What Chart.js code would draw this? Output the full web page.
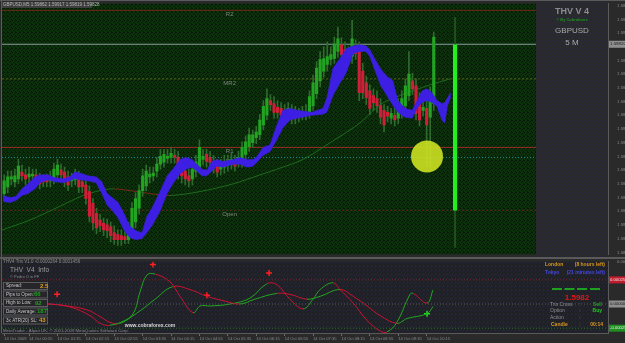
<!DOCTYPE html>
<html>
<head>
<meta charset="utf-8">
<title>THV V4 GBPUSD M5</title>
<script src="https://cdn.jsdelivr.net/npm/chart.js@4.4.1/dist/chart.umd.min.js"></script>
<style>
  body { margin: 0; background: #2a2a2a; overflow: hidden; }
  #wrap { position: relative; width: 625px; height: 343px; }
  #main { position: absolute; left: 0; top: 0; }
  #sub { position: absolute; left: 0; top: 258px; }
</style>
</head>
<body>
<div id="wrap">
  <canvas id="main" width="625" height="258"></canvas>
  <canvas id="sub" width="625" height="85"></canvas>
</div>
<script>
// price axis labels (right side)
const priceTicks = [1.59975, 1.59920, 1.59865, 1.59755, 1.59700, 1.59645, 1.59590, 1.59535, 1.59480,
  1.59425, 1.59370, 1.59315, 1.59260, 1.59205, 1.59150, 1.59095, 1.59040, 1.58985];

// M5 candles, bar index 0 = 14 Oct 00:20
const openP = [
  1.59221, 1.59248, 1.59280, 1.59268, 1.59280, 1.59307, 1.59296, 1.59288, 1.59292, 1.59296,
  1.59284, 1.59276, 1.59280, 1.59272, 1.59280, 1.59296, 1.59315, 1.59307, 1.59288, 1.59272,
  1.59276, 1.59284, 1.59268, 1.59256, 1.59229, 1.59182, 1.59142, 1.59115, 1.59103, 1.59095,
  1.59087, 1.59064, 1.59056, 1.59052, 1.59048, 1.59036, 1.59060, 1.59107, 1.59162, 1.59233,
  1.59252, 1.59288, 1.59292, 1.59311, 1.59339, 1.59347, 1.59362, 1.59366, 1.59374, 1.59366,
  1.59331, 1.59311, 1.59292, 1.59280, 1.59311, 1.59327, 1.59358, 1.59378, 1.59366, 1.59350,
  1.59339, 1.59319, 1.59327, 1.59335, 1.59339, 1.59350, 1.59347, 1.59350, 1.59378, 1.59409,
  1.59425, 1.59445, 1.59457, 1.59496, 1.59535, 1.59594, 1.59582, 1.59567, 1.59563, 1.59555,
  1.59543, 1.59555, 1.59547, 1.59543, 1.59535, 1.59539, 1.59543, 1.59574, 1.59622, 1.59673,
  1.59712, 1.59739, 1.59759, 1.59763, 1.59791, 1.59818, 1.59798, 1.59771, 1.59771, 1.59806,
  1.59798, 1.59712, 1.59665, 1.59633, 1.59614, 1.59602, 1.59574, 1.59555, 1.59547, 1.59523,
  1.59535, 1.59523, 1.59547, 1.59574, 1.59614, 1.59673, 1.59653, 1.59602, 1.59555, 1.59563,
  1.59527, 1.59582];
const highP = [
  1.59296, 1.59311, 1.59311, 1.59319, 1.59358, 1.59335, 1.59319, 1.59327, 1.59319, 1.59319,
  1.59303, 1.59296, 1.59299, 1.59311, 1.59343, 1.59358, 1.59339, 1.59327, 1.59311, 1.59303,
  1.59319, 1.59311, 1.59292, 1.59280, 1.59252, 1.59201, 1.59162, 1.59138, 1.59123, 1.59119,
  1.59107, 1.59091, 1.59075, 1.59075, 1.59068, 1.59107, 1.59185, 1.59225, 1.59256, 1.59319,
  1.59335, 1.59327, 1.59327, 1.59366, 1.59398, 1.59398, 1.59398, 1.59406, 1.59398, 1.59390,
  1.59358, 1.59335, 1.59319, 1.59343, 1.59374, 1.59437, 1.59398, 1.59398, 1.59390, 1.59374,
  1.59358, 1.59358, 1.59374, 1.59374, 1.59382, 1.59374, 1.59390, 1.59429, 1.59453, 1.59484,
  1.59476, 1.59492, 1.59539, 1.59594, 1.59641, 1.59618, 1.59610, 1.59594, 1.59586, 1.59578,
  1.59586, 1.59578, 1.59571, 1.59563, 1.59571, 1.59578, 1.59633, 1.59696, 1.59751, 1.59791,
  1.59810, 1.59830, 1.59810, 1.59849, 1.59889, 1.59846, 1.59830, 1.59810, 1.59916, 1.59838,
  1.59830, 1.59743, 1.59692, 1.59657, 1.59641, 1.59633, 1.59602, 1.59578, 1.59571, 1.59563,
  1.59563, 1.59602, 1.59633, 1.59681, 1.59791, 1.59704, 1.59681, 1.59626, 1.59594, 1.59594,
  1.59649, 1.59869];
const lowP = [
  1.59201, 1.59225, 1.59256, 1.59248, 1.59260, 1.59272, 1.59256, 1.59264, 1.59272, 1.59248,
  1.59240, 1.59248, 1.59248, 1.59248, 1.59260, 1.59272, 1.59272, 1.59248, 1.59233, 1.59248,
  1.59256, 1.59225, 1.59225, 1.59178, 1.59107, 1.59075, 1.59060, 1.59068, 1.59052, 1.59044,
  1.59028, 1.59017, 1.59013, 1.59013, 1.59020, 1.59020, 1.59044, 1.59083, 1.59138, 1.59209,
  1.59233, 1.59264, 1.59272, 1.59288, 1.59319, 1.59327, 1.59343, 1.59343, 1.59343, 1.59280,
  1.59264, 1.59256, 1.59248, 1.59256, 1.59288, 1.59303, 1.59335, 1.59327, 1.59319, 1.59303,
  1.59288, 1.59296, 1.59303, 1.59311, 1.59319, 1.59311, 1.59327, 1.59327, 1.59358, 1.59390,
  1.59406, 1.59421, 1.59437, 1.59476, 1.59516, 1.59555, 1.59523, 1.59523, 1.59516, 1.59516,
  1.59516, 1.59500, 1.59500, 1.59508, 1.59516, 1.59516, 1.59523, 1.59555, 1.59602, 1.59649,
  1.59688, 1.59712, 1.59736, 1.59743, 1.59767, 1.59751, 1.59720, 1.59743, 1.59743, 1.59759,
  1.59594, 1.59602, 1.59578, 1.59539, 1.59555, 1.59547, 1.59500, 1.59468, 1.59508, 1.59500,
  1.59492, 1.59500, 1.59523, 1.59547, 1.59594, 1.59618, 1.59516, 1.59492, 1.59531, 1.59331,
  1.59331, 1.59555];
const closeP = [
  1.59272, 1.59288, 1.59288, 1.59292, 1.59331, 1.59292, 1.59280, 1.59299, 1.59299, 1.59272,
  1.59260, 1.59268, 1.59268, 1.59288, 1.59319, 1.59335, 1.59296, 1.59268, 1.59256, 1.59284,
  1.59288, 1.59248, 1.59248, 1.59201, 1.59130, 1.59103, 1.59083, 1.59091, 1.59075, 1.59072,
  1.59052, 1.59036, 1.59036, 1.59036, 1.59036, 1.59087, 1.59162, 1.59201, 1.59233, 1.59292,
  1.59311, 1.59299, 1.59303, 1.59339, 1.59370, 1.59378, 1.59370, 1.59382, 1.59366, 1.59299,
  1.59292, 1.59280, 1.59272, 1.59319, 1.59347, 1.59406, 1.59370, 1.59350, 1.59347, 1.59327,
  1.59307, 1.59335, 1.59347, 1.59350, 1.59358, 1.59331, 1.59366, 1.59406, 1.59429, 1.59457,
  1.59457, 1.59468, 1.59516, 1.59571, 1.59602, 1.59578, 1.59547, 1.59547, 1.59535, 1.59535,
  1.59563, 1.59523, 1.59523, 1.59527, 1.59547, 1.59547, 1.59610, 1.59665, 1.59724, 1.59759,
  1.59763, 1.59771, 1.59779, 1.59822, 1.59842, 1.59779, 1.59739, 1.59779, 1.59842, 1.59783,
  1.59626, 1.59626, 1.59606, 1.59563, 1.59586, 1.59574, 1.59527, 1.59496, 1.59531, 1.59543,
  1.59516, 1.59574, 1.59602, 1.59653, 1.59700, 1.59641, 1.59543, 1.59516, 1.59567, 1.59496,
  1.59622, 1.59849];

// blue cloud band (top / bottom edge), x in bar units
const cloudIdx = [-0.3, 1.6, 3.3, 5.0, 6.7, 8.7, 10.1, 12.3, 14.3, 16.6, 18.5, 19.9, 21.4, 23.6, 25.9,
  27.5, 29.0, 30.4, 32.1, 33.7, 35.4, 37.1, 38.8, 40.2, 41.6, 43.9, 45.9, 47.5, 49.5, 51.2, 52.9,
  54.3, 55.7, 57.1, 58.5, 59.9, 61.6, 64.5, 66.4, 68.4, 70.1, 71.2, 72.9, 74.9, 76.8, 78.5, 80.5,
  82.5, 86.7, 89.8, 90.9, 92.6, 94.6, 96.3, 98.3, 100.2, 101.9, 103.0, 104.5, 106.1, 107.8, 109.5,
  110.9, 112.9, 114.9, 116.3, 117.7, 119.1, 120.5, 121.9, 123.3, 124.1, 124.9, 125.8];
const cloudTop = [1.59213, 1.59205, 1.59209, 1.59240, 1.59260, 1.59288, 1.59296, 1.59296, 1.59284,
  1.59280, 1.59288, 1.59307, 1.59303, 1.59292, 1.59288, 1.59268, 1.59221, 1.59205, 1.59185, 1.59142,
  1.59091, 1.59072, 1.59064, 1.59130, 1.59162, 1.59229, 1.59292, 1.59319, 1.59358, 1.59366, 1.59358,
  1.59339, 1.59319, 1.59315, 1.59350, 1.59358, 1.59350, 1.59358, 1.59366, 1.59358, 1.59358, 1.59370,
  1.59406, 1.59417, 1.59496, 1.59555, 1.59563, 1.59555, 1.59547, 1.59563, 1.59606, 1.59724, 1.59763,
  1.59802, 1.59814, 1.59818, 1.59814, 1.59798, 1.59759, 1.59720, 1.59692, 1.59673, 1.59594, 1.59563,
  1.59555, 1.59594, 1.59633, 1.59641, 1.59626, 1.59594, 1.59582, 1.59586, 1.59606, 1.59626];
const cloudBot = [1.59189, 1.59185, 1.59193, 1.59213, 1.59221, 1.59240, 1.59264, 1.59276, 1.59268,
  1.59264, 1.59272, 1.59280, 1.59276, 1.59272, 1.59264, 1.59221, 1.59174, 1.59154, 1.59123, 1.59075,
  1.59044, 1.59036, 1.59040, 1.59064, 1.59091, 1.59150, 1.59221, 1.59260, 1.59299, 1.59319, 1.59327,
  1.59311, 1.59292, 1.59292, 1.59311, 1.59331, 1.59327, 1.59339, 1.59339, 1.59327, 1.59331, 1.59347,
  1.59374, 1.59390, 1.59437, 1.59484, 1.59516, 1.59523, 1.59535, 1.59539, 1.59547, 1.59614, 1.59665,
  1.59704, 1.59783, 1.59791, 1.59791, 1.59771, 1.59712, 1.59653, 1.59614, 1.59574, 1.59547, 1.59527,
  1.59523, 1.59563, 1.59586, 1.59594, 1.59586, 1.59571, 1.59516, 1.59504, 1.59574, 1.59610];

// slow moving average
const maIdx = [-1.2, 7.3, 15.7, 22.2, 27.0, 30.7, 35.4, 41.1, 46.7, 55.2, 64.5, 72.1, 77.7, 84.2,
  91.8, 100.2, 105.9, 111.5, 119.9, 125.6];
const maVal = [1.59072, 1.59115, 1.59170, 1.59213, 1.59233, 1.59240, 1.59233, 1.59221, 1.59213,
  1.59229, 1.59260, 1.59296, 1.59323, 1.59358, 1.59425, 1.59504, 1.59578, 1.59614, 1.59657, 1.59681];
const maDownFrom = 30.7, maDownTo = 46.7;

// pivot levels
const pivotNames = ['R2', 'MR2', 'R1', 'PL', 'Open'];
const pivotValues = [1.59956, 1.59681, 1.59406, 1.59366, 1.59154];
const bidPrice = 1.59820;

// current bar marker and circle
const signalIdx = [127];
const signalBody = [[1.59154, 1.59818]];
const signalWick = [[1.59005, 1.59928]];
const circleIdx = [119.1];
const circleVal = [1.59370];

// Trix window
const trixTicks = [0.00044];
const trixLevels = [0.00025, 0, -0.00025];
const fastIdx = [0, 12.3, 17.7, 23.3, 27, 29.8, 32.6, 36.3, 38.3, 40.2, 42.5, 46.7, 49.5, 53.2, 55.2,
  58, 63.6, 69.2, 74, 76.8, 80.5, 84.2, 87, 89, 92.6, 94.6, 98.3, 102.2, 105.9, 107.8, 110.6, 114.3,
  115.2, 119.1, 120.8];
const fastVal = [0.00001, 0, -0.00002, -0.00006, -0.00013, -0.00019, -0.0002, -0.0001, 0.00013, 0.0003,
  0.00031, 0.00023, 0.00008, -0.00009, -0.00002, -0.00002, 0, 0.00006, 0.00021, 0.0002, 0.00005,
  -0.00005, 0.00005, 0.00015, 0.00022, 0.00015, 0.00001, -0.00017, -0.00028, -0.00029, -0.00019,
  0.0001, 0.00011, 0.00001, 0.0001456];
const slowIdx = [0, 12.3, 18.5, 24.2, 27, 29.8, 34, 38.3, 42.5, 47.5, 52.3, 57.1, 62.2, 66.4, 70.6,
  76.8, 80.5, 85.3, 89, 94.6, 98.3, 102.2, 105.9, 110.6, 113.5, 119.1, 120.8];
const slowVal = [0.00001, 0, -0.00003, -0.00012, -0.0002, -0.00022, -0.00017, -0.00007, 0.00005,
  0.00018, 0.00015, 0.00008, 0.00003, 0, 0.00005, 0.00011, 0.0001, 0.00005, 0.00008, 0.00015, 0.00008,
  -0.00002, -0.00012, -0.0002, -0.00015, -0.0001, -0.0000264];
const sellIdx = [14.9, 41.9, 57.1, 74.6];
const sellVal = [0.0001, 0.00041, 0.00009, 0.00032];
const buyIdx = [119.1];
const buyVal = [-0.0001];

// time axis
const timeIdx = [0, 7, 15, 23, 31, 39, 47, 55, 63, 71, 79, 87, 95, 103, 111, 119];
const timeLabels = ['14 Oct 2009', '14 Oct 00:55', '14 Oct 01:35', '14 Oct 02:15', '14 Oct 02:55',
  '14 Oct 03:35', '14 Oct 04:15', '14 Oct 04:55', '14 Oct 05:35', '14 Oct 06:15', '14 Oct 06:55',
  '14 Oct 07:35', '14 Oct 08:15', '14 Oct 08:55', '14 Oct 09:35', '14 Oct 10:15'];

const FONT = "'Liberation Sans', Arial, sans-serif";
const X_MIN = -0.62, X_MAX = 170.08;
const UP = '#22a322', DOWN = '#cf1f38', WICK = '#2f6a2f', CLOUD = '#3c1fe2';

const pivotStyle = {
  R2: { color: '#6e2612', dash: [] },
  MR2: { color: '#5e5e16', dash: [2, 2] },
  R1: { color: '#9c2a22', dash: [] },
  PL: { color: '#1f8c9c', dash: [1, 2] },
  Open: { color: '#6c2222', dash: [2, 2] }
};

function pts(xs, ys) {
  return xs.map((x, i) => ({ x: x, y: ys[i] }));
}

function txt(ctx, s, x, y, size, color, align, bold) {
  ctx.font = (bold ? 'bold ' : '') + size + 'px ' + FONT;
  ctx.fillStyle = color;
  ctx.textAlign = align || 'left';
  ctx.textBaseline = 'middle';
  ctx.fillText(s, x, y);
}

// grainy MT4 background: a small fixed dot pattern
function grain(ctx, base, dot) {
  const c = document.createElement('canvas');
  c.width = 4; c.height = 4;
  const g = c.getContext('2d');
  g.fillStyle = base;
  g.fillRect(0, 0, 4, 4);
  g.fillStyle = dot;
  [[0, 0], [2, 1], [1, 2], [3, 3], [3, 0]].forEach(p => g.fillRect(p[0], p[1], 1, 1));
  return ctx.createPattern(c, 'repeat');
}

const levelSets = pivotNames.map((name, i) => ({
  type: 'line',
  data: [{ x: X_MIN, y: pivotValues[i] }, { x: X_MAX, y: pivotValues[i] }],
  borderColor: pivotStyle[name].color,
  borderDash: pivotStyle[name].dash,
  borderWidth: 1, pointRadius: 0, order: 10
}));
levelSets.push({
  type: 'line',
  data: [{ x: X_MIN, y: bidPrice }, { x: X_MAX, y: bidPrice }],
  borderColor: '#8a9c9c', borderWidth: 1, pointRadius: 0, order: 10
});

const mainDeco = {
  id: 'mainDeco',
  beforeDraw(chart) {
    const { ctx, chartArea: a } = chart;
    ctx.save();
    ctx.fillStyle = '#2a2a2a';
    ctx.fillRect(0, 0, chart.width, chart.height);
    ctx.fillStyle = grain(ctx, '#0d310d', '#051a05');
    ctx.fillRect(a.left, a.top, a.right - a.left, a.bottom - a.top);
    ctx.restore();
  },
  beforeDatasetsDraw(chart) {
    const { ctx } = chart;
    const xs = chart.scales.x, ys = chart.scales.y;
    ctx.save();
    pivotNames.forEach((name, i) => {
      txt(ctx, name, xs.getPixelForValue(63.5), ys.getPixelForValue(pivotValues[i]) + 4, 6, '#7f867f', 'center');
    });
    ctx.restore();
  },
  afterDraw(chart) {
    const { ctx } = chart;
    const ys = chart.scales.y;
    ctx.save();
    // info panel on the right
    ctx.fillStyle = grain(ctx, '#2b2b2e', '#26263a');
    ctx.fillRect(536, 0, 72, 258);
    txt(ctx, 'THV V 4', 572, 12, 9, '#8c8c8c', 'center', true);
    txt(ctx, '© By Cobraforex', 572, 19.5, 4, '#1f8f1f', 'center', true);
    txt(ctx, 'GBPUSD', 572, 31, 8, '#a9a9a9', 'center');
    txt(ctx, '5 M', 572, 43, 8, '#a9a9a9', 'center');
    // header
    ctx.fillStyle = '#3e3e3e';
    ctx.fillRect(2, 2, 90, 6);
    txt(ctx, 'GBPUSD,M5 1.59862 1.59917 1.59819 1.59828', 3, 5, 4.5, '#b8b8b8');
    // bid label on axis
    const by = ys.getPixelForValue(bidPrice);
    ctx.fillStyle = '#8f8f8f';
    ctx.fillRect(609, by - 3.5, 16, 7);
    txt(ctx, bidPrice.toFixed(5), 610, by, 4.4, '#1a1a1a');
    // frame
    ctx.fillStyle = '#5a5a5a';
    ctx.fillRect(0, 0, 625, 1);
    ctx.fillRect(1, 0, 1, 258);
    ctx.fillRect(0, 257, 625, 1);
    ctx.restore();
  }
};

new Chart(document.getElementById('main'), {
  type: 'bar',
  data: {
    datasets: [
      ...levelSets,
      {
        type: 'line', data: pts(maIdx, maVal), borderWidth: 1, pointRadius: 0, tension: 0.3, order: 9,
        borderColor: '#1d6b1d',
        segment: { borderColor: c => (c.p0.parsed.x >= maDownFrom && c.p1.parsed.x <= maDownTo) ? '#7a2a1a' : '#1d6b1d' }
      },
      {
        type: 'bar', data: openP.map((o, i) => ({ x: i, y: [lowP[i], highP[i]] })),
        backgroundColor: WICK, barThickness: 1, grouped: false, order: 8
      },
      {
        type: 'line', data: pts(circleIdx, circleVal), showLine: false, pointRadius: 16, pointBorderWidth: 0,
        pointBackgroundColor: 'rgba(204,226,34,0.9)', order: 7
      },
      {
        type: 'bar', data: openP.map((o, i) => ({ x: i, y: [o, closeP[i]] })),
        backgroundColor: openP.map((o, i) => closeP[i] >= o ? UP : DOWN),
        barThickness: 2.5, minBarLength: 1, grouped: false, order: 6
      },
      {
        type: 'line', data: pts(cloudIdx, cloudTop), borderColor: CLOUD, backgroundColor: CLOUD,
        borderWidth: 0.5, pointRadius: 0, fill: '+1', order: 5
      },
      {
        type: 'line', data: pts(cloudIdx, cloudBot), borderColor: CLOUD,
        borderWidth: 0.5, pointRadius: 0, fill: false, order: 5
      },
      {
        type: 'bar', data: signalIdx.map((x, i) => ({ x: x, y: signalWick[i] })),
        backgroundColor: '#1f5a1f', barThickness: 1, grouped: false, order: 4
      },
      {
        type: 'bar', data: signalIdx.map((x, i) => ({ x: x, y: signalBody[i] })),
        backgroundColor: '#22ee22', barThickness: 3.5, grouped: false, order: 3
      }
    ]
  },
  options: {
    responsive: false, animation: false,
    layout: { autoPadding: false, padding: { left: 2, top: 1, bottom: 1, right: 0 } },
    plugins: { legend: { display: false }, tooltip: { enabled: false } },
    scales: {
      x: { type: 'linear', min: X_MIN, max: X_MAX, offset: false, display: false },
      y: {
        position: 'right', min: 1.58977, max: 1.59983,
        grid: { display: false },
        border: { color: '#5a5a5a' },
        afterBuildTicks: s => { s.ticks = priceTicks.map(v => ({ value: v })); },
        afterFit: s => { s.width = 17; },
        ticks: { autoSkip: false, padding: 1, color: '#8a8a8a', font: { size: 4.4, family: FONT }, callback: v => v.toFixed(5) }
      }
    }
  },
  plugins: [mainDeco]
});

// ---- Trix window ----
const subDeco = {
  id: 'subDeco',
  beforeDraw(chart) {
    const { ctx, chartArea: a } = chart;
    ctx.save();
    ctx.fillStyle = '#2a2a2a';
    ctx.fillRect(0, 0, chart.width, chart.height);
    ctx.fillStyle = grain(ctx, '#1f2024', '#25263a');
    ctx.fillRect(a.left, a.top, a.right - a.left, a.bottom - a.top);
    ctx.restore();
  },
  afterDraw(chart) {
    const { ctx } = chart;
    const ys = chart.scales.y;
    ctx.save();
    ctx.translate(0, -258);
    txt(ctx, 'THV4 Trix V1.0 -0.0000264 0.0001456', 3, 261.5, 4.5, '#8c8c8c');
    txt(ctx, 'THV  V4  Info', 10, 270, 6.5, '#9c9c9c');
    txt(ctx, '© Pedro O in FF', 10, 277, 4, '#8a8a8a');
    const rows = [
      ['Spread:', '2.5', '#e0a020', 40, 286],
      ['Pips to Open:', '66', '#1fa01f', 34, 294.5],
      ['High to Low:', '92', '#1fa01f', 35, 303],
      ['Daily Average:', '187', '#1fa01f', 37, 311.5],
      ['3x ATR(20) SL:', '43', '#e0a020', 39, 320.5]
    ];
    rows.forEach(r => {
      ctx.fillStyle = '#26262a';
      ctx.fillRect(3, r[4] - 3.5, 45, 7);
      ctx.strokeStyle = '#5c5c5c';
      ctx.lineWidth = 1;
      ctx.strokeRect(3.5, r[4] - 3.5, 44, 7);
      txt(ctx, r[0], 6, r[4], 4.6, '#c4c4c4');
      txt(ctx, r[1], r[3], r[4], 6, r[2], 'left', true);
    });
    txt(ctx, 'www.cobraforex.com', 150, 326, 5, '#d8d8d8', 'center', true);
    txt(ctx, 'MetaTrader - Alpari UK, © 2001-2009 MetaQuotes Software Corp.', 3, 331, 4.3, '#8a8a8a');
    // session / signal box
    txt(ctx, 'London', 545, 265, 5, '#d89a20', 'left', true);
    txt(ctx, '(8 hours left)', 605, 265, 5, '#d89a20', 'right', true);
    txt(ctx, 'Tokyo', 545, 273, 5, '#4646d8', 'left', true);
    txt(ctx, '(21 minutes left)', 605, 273, 5, '#4646d8', 'right', true);
    ctx.fillStyle = '#1fa01f';
    [552, 564.5, 577, 590].forEach(x => ctx.fillRect(x, 288, 10, 2));
    txt(ctx, '1.5982', 577, 297.5, 8, '#e01818', 'center', true);
    txt(ctx, 'Trix Cross', 550, 304.5, 5, '#8c8c8c');
    txt(ctx, 'Option', 550, 311, 5, '#8c8c8c');
    txt(ctx, 'Action', 550, 317.5, 5, '#8c8c8c');
    txt(ctx, 'Candle', 551, 325, 5, '#d89a20', 'left', true);
    [304.5, 311, 317.5, 325].forEach(y => txt(ctx, ':', 580, y, 5, '#8c8c8c', 'center'));
    txt(ctx, 'Sell', 602, 304.5, 5, '#1fa01f', 'right', true);
    txt(ctx, 'Buy', 602, 311, 5, '#20c820', 'right', true);
    txt(ctx, '00:14', 603, 325, 5, '#d89a20', 'right', true);
    // level boxes on the axis
    const boxCol = ['#c01c2c', '#8f8f8f', '#1f8f1f'];
    trixLevels.forEach((v, i) => {
      const y = ys.getPixelForValue(v) + 258;
      ctx.fillStyle = boxCol[i];
      ctx.fillRect(609, y - 3.5, 16, 7);
      txt(ctx, v.toFixed(5), 610, y, 4.2, i === 1 ? '#1a1a1a' : '#e8e8e8');
    });
    ctx.fillStyle = '#5a5a5a';
    ctx.fillRect(0, 258, 625, 1);
    ctx.fillRect(1, 258, 1, 75);
    ctx.restore();
  }
};

const trixLevelColors = ['#8a2222', '#5c5c5c', '#1a7a1a'];
const lineSeg = { borderColor: c => c.p1.parsed.y >= c.p0.parsed.y ? '#1fa81f' : '#cc1230' };

new Chart(document.getElementById('sub'), {
  type: 'line',
  data: {
    datasets: [
      ...trixLevels.map((v, i) => ({
        data: [{ x: X_MIN, y: v }, { x: X_MAX, y: v }], borderColor: trixLevelColors[i],
        borderDash: [1, 2], borderWidth: 1, pointRadius: 0
      })),
      { data: pts(slowIdx, slowVal), borderWidth: 1, pointRadius: 0, tension: 0.4, borderColor: '#1fa81f', segment: lineSeg },
      { data: pts(fastIdx, fastVal), borderWidth: 1, pointRadius: 0, tension: 0.4, borderColor: '#1fa81f', segment: lineSeg },
      {
        data: pts(sellIdx, sellVal), showLine: false, pointStyle: 'cross', pointRadius: 3,
        pointBorderWidth: 1.5, pointBorderColor: '#ff2020'
      },
      {
        data: pts(buyIdx, buyVal), showLine: false, pointStyle: 'cross', pointRadius: 3,
        pointBorderWidth: 1.5, pointBorderColor: '#22e022'
      }
    ]
  },
  options: {
    responsive: false, animation: false,
    layout: { autoPadding: false, padding: { left: 2, top: 1, bottom: 0, right: 0 } },
    plugins: { legend: { display: false }, tooltip: { enabled: false } },
    scales: {
      x: {
        type: 'linear', min: X_MIN, max: X_MAX, position: 'bottom',
        grid: { drawOnChartArea: false, tickLength: 3, color: '#6a6a6a' },
        border: { color: '#5a5a5a' },
        afterBuildTicks: s => { s.ticks = timeIdx.map(v => ({ value: v })); },
        afterFit: s => { s.height = 10; },
        ticks: {
          autoSkip: false, maxRotation: 0, align: 'start', padding: 0, color: '#8a8a8a',
          font: { size: 4.1, family: FONT }, callback: (v, i) => timeLabels[i]
        }
      },
      y: {
        position: 'right', min: -0.0003, max: 0.00044,
        grid: { display: false },
        border: { color: '#5a5a5a' },
        afterBuildTicks: s => { s.ticks = trixTicks.map(v => ({ value: v })); },
        afterFit: s => { s.width = 17; },
        ticks: { autoSkip: false, padding: 1, color: '#8a8a8a', font: { size: 4.2, family: FONT }, callback: v => v.toFixed(5) }
      }
    }
  },
  plugins: [subDeco]
});
</script>
</body>
</html>
